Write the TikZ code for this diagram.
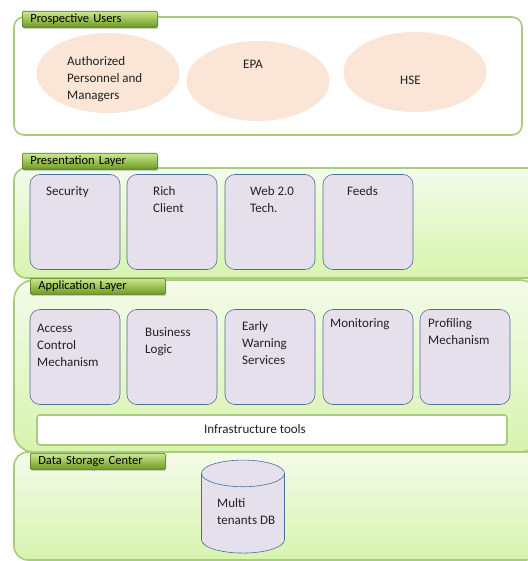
\documentclass[tikz,border=0pt]{standalone}
\usepackage{fontspec}
\setmainfont{Carlito}
\usetikzlibrary{shapes.geometric,shadows}

\definecolor{panelline}{HTML}{A9CB7C}
\definecolor{panellight}{HTML}{F4FBEA}
\definecolor{paneldark}{HTML}{D7F4AE}
\definecolor{tabtop}{HTML}{CBE88E}
\definecolor{tabbot}{HTML}{6E9B22}
\definecolor{tabline}{HTML}{4E6E1C}
\definecolor{tilefill}{HTML}{E5E0EC}
\definecolor{tileline}{HTML}{4D6E99}
\definecolor{userfill}{HTML}{FBE5D6}
\definecolor{inktext}{HTML}{222222}

\tikzset{
  panel/.style={draw=panelline, line width=1.6pt, rounded corners=#1},
  greenpanel/.style={panel=#1, top color=panellight, bottom color=paneldark},
  tab/.style={draw=tabline, line width=0.6pt, top color=tabtop, bottom color=tabbot,
    rounded corners=1.2pt, drop shadow={shadow xshift=1pt, shadow yshift=-1.5pt, opacity=0.35},
    anchor=north west, text width=119pt, inner xsep=8pt, inner ysep=0pt,
    minimum height=16pt, align=left, font=\fontsize{12.5}{14}\selectfont, text=black},
  user/.style={ellipse, fill=userfill, minimum width=143pt, minimum height=80pt},
  tile/.style={draw=tileline, line width=0.6pt, fill=tilefill, rounded corners=10pt,
    minimum width=90pt, minimum height=95pt},
  infra/.style={draw=panelline, line width=1.6pt, fill=white, rounded corners=3pt,
    minimum width=470pt, minimum height=30pt},
  dbase/.style={cylinder, shape border rotate=90, aspect=4, draw=tileline,
    line width=0.6pt, fill=tilefill, minimum width=83pt, minimum height=93pt},
  lbl/.style={anchor=north west, inner sep=0pt, align=left, text=inktext,
    font=\fontsize{13}{17}\selectfont}
}

\begin{document}
\begin{tikzpicture}[x=1pt,y=-1pt]
\useasboundingbox (0,0) rectangle (527,561);

% layer panels
\draw[panel=10pt, fill=white] (14,17) rectangle (522,135);
\draw[greenpanel=12pt] (14,168) rectangle (540,278);
\draw[greenpanel=20pt] (14,280) rectangle (540,452);
\draw[greenpanel=14pt] (14,452) rectangle (540,560);

% layer tabs
\node[tab] (tabUsers) at (22,11) {Prospective Users};
\node[tab] (tabPres) at (22,153) {Presentation Layer};
\node[tab] (tabApp) at (30,278) {Application Layer};
\node[tab] (tabData) at (30,453) {Data Storage Center};

% prospective users
\node[user] (auth) at (108,73) {};
\node[user] (epa) at (258,81) {};
\node[user] (hse) at (415,72) {};
\node[lbl] (authT) at (67,56) {Authorized\\Personnel and\\Managers};
\node[lbl] (epaT) at (243,60) {EPA};
\node[lbl] (hseT) at (400,76) {HSE};

% presentation layer
\node[tile] (sec) at (75,222) {};
\node[tile] (rich) at (172,222) {};
\node[tile] (web) at (270,222) {};
\node[tile] (feeds) at (368,222) {};
\node[lbl] (secT) at (46,186) {Security};
\node[lbl] (richT) at (153,186) {Rich\\Client};
\node[lbl] (webT) at (250,186) {Web 2.0\\Tech.};
\node[lbl] (feedsT) at (347,186) {Feeds};

% application layer
\node[tile] (access) at (75,357) {};
\node[tile] (logic) at (172,357) {};
\node[tile] (early) at (270,357) {};
\node[tile] (monit) at (368,357) {};
\node[tile] (prof) at (465,357) {};
\node[lbl] (accessT) at (37,324) {Access\\Control\\Mechanism};
\node[lbl] (logicT) at (145,327) {Business\\Logic};
\node[lbl] (earlyT) at (242,321) {Early\\Warning\\Services};
\node[lbl] (monitT) at (330,318) {Monitoring};
\node[lbl] (profT) at (428,318) {Profiling\\Mechanism};

\node[infra] (infra) at (272,430) {};
\node[lbl, anchor=center] (infraT) at (255,429) {Infrastructure tools};

% data storage
\node[dbase] (db) at (243,516) {};
\node[lbl] (dbT) at (217,498) {Multi\\tenants DB};

\end{tikzpicture}
\end{document}
